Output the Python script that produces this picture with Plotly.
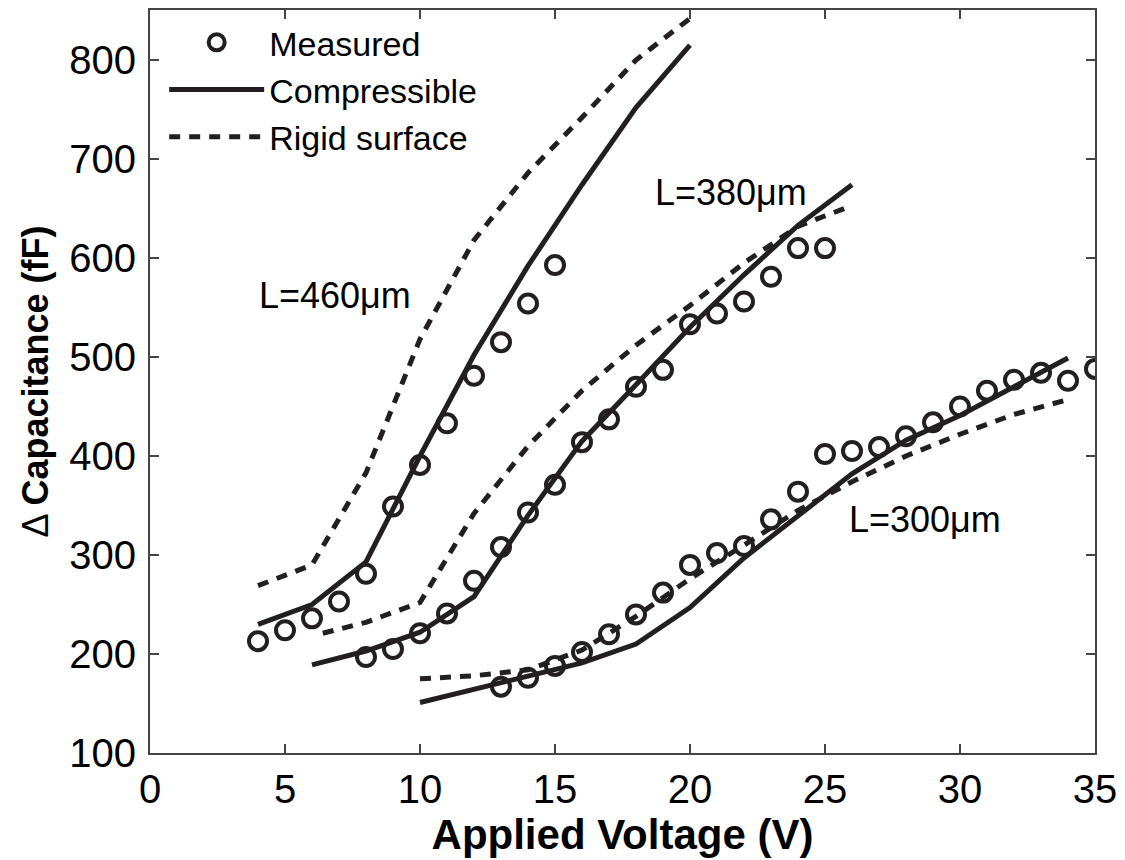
import plotly.graph_objects as go

INK = "#231f20"

# Measured data
v460 = [4, 5, 6, 7, 8, 9, 10, 11, 12, 13, 14, 15]
m460 = [213, 224, 236, 253, 281, 349, 391, 433, 481, 515, 554, 593]
v380 = [8, 9, 10, 11, 12, 13, 14, 15, 16, 17, 18, 19, 20, 21, 22, 23, 24, 25]
m380 = [197, 205, 221, 241, 274, 308, 343, 371, 414, 437, 470, 487, 533, 544, 556, 581, 610, 610]
v300 = [13, 14, 15, 16, 17, 18, 19, 20, 21, 22, 23, 24, 25, 26, 27, 28, 29, 30, 31, 32, 33, 34, 35]
m300 = [167, 176, 188, 202, 220, 240, 262, 290, 302, 309, 336, 364, 402, 405, 409, 420, 434, 450,
        466, 477, 484, 476, 488]

# Compressible model
cv460 = [4, 6, 8, 10, 12, 14, 16, 18, 20]
c460 = [230, 250, 293, 400, 502, 592, 674, 752, 815]
cv380 = [6, 8, 10, 12, 14, 16, 18, 20, 22, 24, 26]
c380 = [189, 203, 222, 258, 340, 415, 472, 530, 583, 633, 674]
cv300 = [10, 12, 14, 16, 18, 20, 22, 24, 26, 28, 30, 32, 34]
c300 = [151, 164, 177, 191, 210, 247, 297, 340, 382, 416, 441, 470, 499]

# Rigid surface model
rv460 = [4, 6, 8, 10, 12, 14, 16, 18, 20]
r460 = [269, 290, 383, 518, 618, 686, 742, 800, 842]
rv380 = [6.4, 8, 10, 12, 14, 16, 18, 20, 22, 24, 26]
r380 = [221, 232, 252, 342, 410, 466, 512, 552, 595, 632, 653]
rv300 = [10, 12, 14, 16, 18, 20, 22, 24, 26, 28, 30, 32, 34]
r300 = [175, 178, 184, 204, 238, 276, 310, 345, 374, 400, 422, 442, 457]

labels = ["L=460\u03bcm", "L=380\u03bcm", "L=300\u03bcm"]
label_x = [6.85, 21.5, 28.7]
label_y = [562, 666, 336]

xticks = [0, 5, 10, 15, 20, 25, 30, 35]
yticks = [100, 200, 300, 400, 500, 600, 700, 800]

fig = go.Figure()

line_style = dict(color=INK, width=5)
dash_style = dict(color=INK, width=5, dash="11px,9px")

for i, (vx, vy) in enumerate([(cv460, c460), (cv380, c380), (cv300, c300)]):
    fig.add_trace(go.Scatter(x=vx, y=vy, mode="lines", line=line_style, name="Compressible",
                             legendgroup="comp", showlegend=(i == 0), legendrank=2))
for i, (vx, vy) in enumerate([(rv460, r460), (rv380, r380), (rv300, r300)]):
    fig.add_trace(go.Scatter(x=vx, y=vy, mode="lines", line=dash_style, name="Rigid surface",
                             legendgroup="rigid", showlegend=(i == 0), legendrank=3))
for i, (vx, vy) in enumerate([(v460, m460), (v380, m380), (v300, m300)]):
    fig.add_trace(go.Scatter(x=vx, y=vy, mode="markers", name="Measured",
                             marker=dict(symbol="circle-open", size=18, color=INK,
                                         line=dict(color=INK, width=4)),
                             legendgroup="meas", showlegend=(i == 0), legendrank=1))

for t, x, y in zip(labels, label_x, label_y):
    fig.add_annotation(x=x, y=y, text=t, showarrow=False,
                       font=dict(family="Liberation Sans", size=36, color="black"))

axis_common = dict(showline=True, linecolor="#444", linewidth=2, mirror="ticks",
                   ticks="inside", ticklen=9, tickcolor="#444", tickwidth=1.5,
                   showgrid=False, zeroline=False, automargin=False,
                   tickfont=dict(family="Liberation Sans", size=40, color="black"))

fig.update_xaxes(range=[0, 35], tickvals=xticks, ticklabelstandoff=0,
                 title=dict(text="<b>Applied Voltage (V)</b>", standoff=2,
                            font=dict(family="Liberation Sans", size=42, color="black")),
                 **axis_common)
fig.update_yaxes(range=[100, 850.5], tickvals=yticks, ticklabelstandoff=4,
                 title=dict(text="\u0394 <b>Capacitance (fF)</b>", standoff=10,
                            font=dict(family="Liberation Sans", size=36, color="black")),
                 **axis_common)

fig.update_layout(
    width=1125, height=860,
    margin=dict(l=150, r=30, t=10, b=107),
    plot_bgcolor="white", paper_bgcolor="white",
    legend=dict(x=0.015, y=0.995, xanchor="left", yanchor="top", bgcolor="rgba(0,0,0,0)",
                font=dict(family="Liberation Sans", size=34, color="black"),
                itemwidth=95, tracegroupgap=0, traceorder="normal"),
)

fig.write_html("out.html")
